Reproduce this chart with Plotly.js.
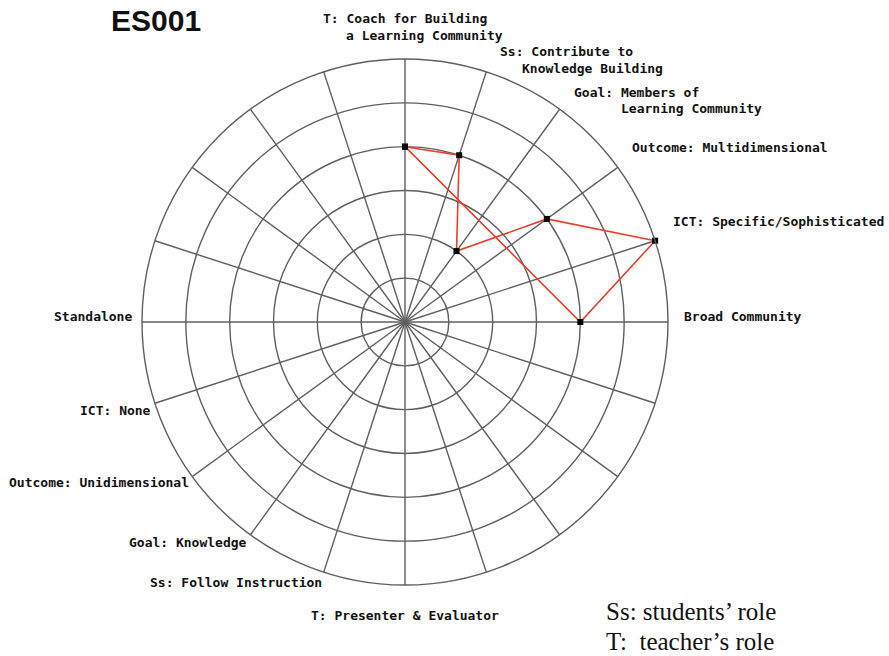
<!DOCTYPE html>
<html>
<head>
<meta charset="utf-8">
<script src="https://cdn.plot.ly/plotly-3.0.1.min.js"></script>
<style>html,body{margin:0;padding:0;background:#fff;}#chart{width:889px;height:656px;}</style>
</head>
<body>
<div id="chart"></div>
<script>
// Spoke category labels (counter-clockwise from the right); '\n' splits a label into lines
const spokeLabels = [
  'Broad Community',
  'ICT: Specific/Sophisticated',
  'Outcome: Multidimensional',
  'Goal: Members of\nLearning Community',
  'Ss: Contribute to\nKnowledge Building',
  'T: Coach for Building\na Learning Community',
  '', '', '', '',
  'Standalone',
  'ICT: None',
  'Outcome: Unidimensional',
  'Goal: Knowledge',
  'Ss: Follow Instruction',
  'T: Presenter & Evaluator',
  '', '', '', ''
];
// Profile ES001: categories in drawing order and their levels (scale 0-6)
const profileCategories = [
  'T: Coach for Building\na Learning Community',
  'Ss: Contribute to\nKnowledge Building',
  'Goal: Members of\nLearning Community',
  'Outcome: Multidimensional',
  'ICT: Specific/Sophisticated',
  'Broad Community'
];
const profileValues = [4, 4, 2, 4, 6, 4];
const radialTicks = [1, 2, 3, 4, 5, 6];
const chartTitle = 'ES001';
const noteLines = ['Ss: students’ role', 'T:&nbsp;&nbsp;teacher’s role'];

// ---- layout / styling (not data) ----
const W = 889, H = 656;
const CX = 405, CY = 322, R = 263;         // polar centre and radius in px
const labelFont = {family: '"DejaVu Sans Mono", "Liberation Mono", monospace', size: 13, weight: 'bold', color: '#111'};
const LINE_H = 16.5;
// per-spoke label placement: anchor, offset from the spoke end (px), indent of continuation lines
const labelPlace = {
  0:  {a: 'left',  dx: 15,  dy: -5},
  1:  {a: 'left',  dx: 17,  dy: -19},
  2:  {a: 'left',  dx: 13,  dy: -20},
  3:  {a: 'left',  dx: 13,  dy: -17, ind: 47},
  4:  {a: 'left',  dx: 13,  dy: -20, ind: 22},
  5:  {a: 'left',  dx: -83, dy: -40, ind: 23},
  10: {a: 'right', dx: -9,  dy: -5},
  11: {a: 'right', dx: -3,  dy: 7},
  12: {a: 'right', dx: -2,  dy: 6},
  13: {a: 'right', dx: -2,  dy: 8},
  14: {a: 'right', dx: -1,  dy: 10},
  15: {a: 'left',  dx: -95, dy: 30}
};
const NOTE_X = 605, NOTE_Y0 = 611, NOTE_LH = 30;

const step = 360 / spokeLabels.length;
const spokeAngles = spokeLabels.map((_, i) => i * step);
const thetaOf = c => spokeAngles[spokeLabels.indexOf(c)];

const theta = profileCategories.map(thetaOf);
const r = profileValues.slice();
theta.push(theta[0]); r.push(r[0]);

const annotations = [];
spokeLabels.forEach((lab, i) => {
  if (!lab) return;
  const p = labelPlace[i];
  const rad = spokeAngles[i] * Math.PI / 180;
  const px = CX + R * Math.cos(rad), py = CY - R * Math.sin(rad);
  lab.split('\n').forEach((line, k) => {
    const x = px + p.dx + (k > 0 ? (p.ind || 0) : 0);
    const y = py + p.dy + k * LINE_H;
    annotations.push({
      text: line, xref: 'paper', yref: 'paper',
      x: x / W, y: 1 - y / H, xanchor: p.a, yanchor: 'middle',
      showarrow: false, borderpad: 0, font: labelFont
    });
  });
});
noteLines.forEach((line, k) => {
  annotations.push({
    text: line, xref: 'paper', yref: 'paper',
    x: NOTE_X / W, y: 1 - (NOTE_Y0 + k * NOTE_LH) / H, xanchor: 'left', yanchor: 'middle',
    showarrow: false, borderpad: 0,
    font: {family: '"Liberation Serif", "Times New Roman", serif', size: 25, color: '#111'}
  });
});

const gridCol = '#5f5f5f';
const trace = {
  type: 'scatterpolar',
  mode: 'lines+markers',
  r: r,
  theta: theta,
  line: {color: '#e5402b', width: 1.6},
  marker: {symbol: 'square', size: 6, color: '#000'},
  cliponaxis: false,
  hoverinfo: 'skip'
};

const layout = {
  width: W, height: H,
  margin: {l: 0, r: 0, t: 0, b: 0},
  paper_bgcolor: '#fff',
  showlegend: false,
  title: {
    text: chartTitle,
    x: 111 / W, xanchor: 'left', xref: 'paper',
    y: 1 - 20 / H, yanchor: 'middle', yref: 'container',
    font: {family: '"Liberation Sans", Arial, sans-serif', size: 30, weight: 'bold', color: '#111'}
  },
  polar: {
    domain: {x: [(CX - R) / W, (CX + R) / W], y: [(H - CY - R) / H, (H - CY + R) / H]},
    bgcolor: '#fff',
    radialaxis: {
      range: [0, 6], tickvals: radialTicks, showticklabels: false, ticks: '',
      showline: false, gridcolor: gridCol, gridwidth: 1.4
    },
    angularaxis: {
      direction: 'counterclockwise', rotation: 0,
      tickmode: 'array', tickvals: spokeAngles, showticklabels: false,
      ticks: '', showline: true, linecolor: gridCol, linewidth: 1.4,
      gridcolor: gridCol, gridwidth: 1.4
    }
  },
  annotations: annotations
};

Plotly.newPlot('chart', [trace], layout, {displayModeBar: false, staticPlot: true});
</script>
</body>
</html>
